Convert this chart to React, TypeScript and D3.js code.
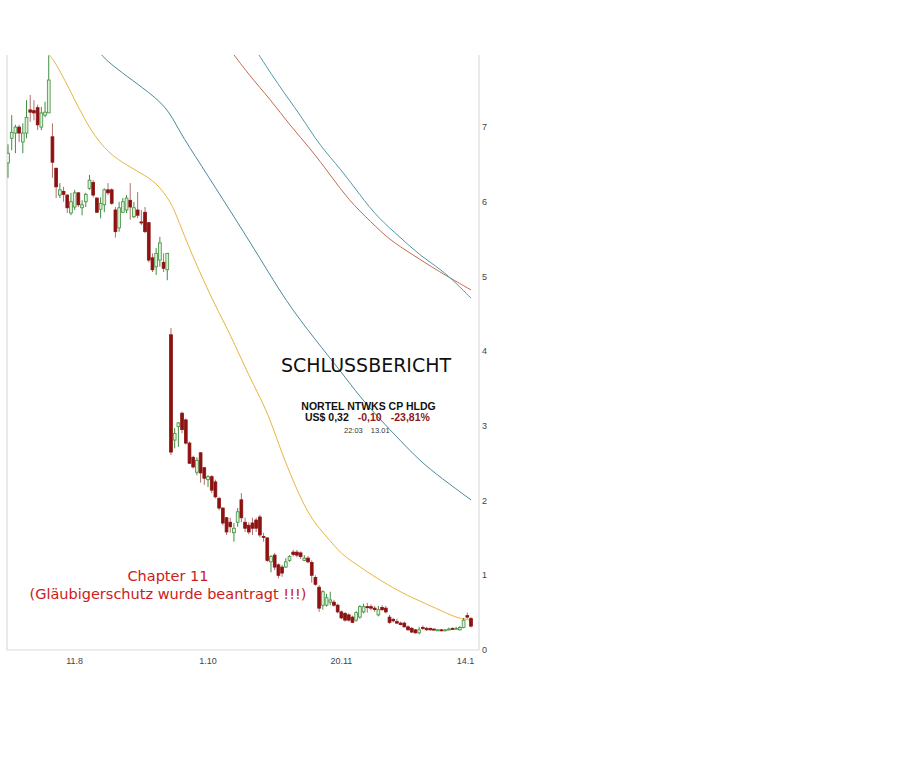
import React from 'react';
import * as d3 from 'd3';

// ---- Candle data (daily OHLC, Nortel, mid-July 2008 .. mid-Jan 2009) ----
const opens = [
  6.52, 6.85, 6.92, 7.0, 6.8, 6.92, 7.23, 7.22, 7.26, 7.0,
  7.16, 7.19, 6.87, 6.45, 6.09, 6.14, 6.09, 5.85, 5.93, 6.12,
  5.92, 6.0, 6.18, 6.26, 6.05, 5.9, 5.96, 6.16, 6.16, 5.89,
  5.65, 5.86, 5.89, 6.02, 5.8, 5.89, 5.73, 5.86, 5.72, 5.25,
  5.13, 5.22, 5.19, 5.09, 4.22, 2.81, 2.99, 3.17, 3.08, 2.77,
  2.58, 2.38, 2.64, 2.44, 2.28, 2.32, 2.25, 2.03, 1.9, 1.77,
  1.71, 1.57, 1.71, 2.01, 1.71, 1.67, 1.7, 1.74, 1.78, 1.52,
  1.5, 1.18, 1.27, 1.14, 1.11, 1.11, 1.2, 1.31, 1.31, 1.3,
  1.2, 1.23, 1.17, 0.97, 0.84, 0.6, 0.6, 0.64, 0.64, 0.6,
  0.51, 0.49, 0.47, 0.44, 0.4, 0.44, 0.51, 0.58, 0.58, 0.56,
  0.47, 0.57, 0.56, 0.44, 0.41, 0.38, 0.36, 0.36, 0.31, 0.29,
  0.27, 0.23, 0.3, 0.29, 0.29, 0.28, 0.27, 0.27, 0.26, 0.28,
  0.29, 0.29, 0.27, 0.3, 0.46, 0.42,
];
const highs = [
  6.77, 7.16, 7.03, 7.03, 7.05, 7.36, 7.43, 7.36, 7.3, 7.27,
  7.34, 7.96, 7.05, 6.45, 6.25, 6.2, 6.1, 6.12, 6.16, 6.13,
  6.02, 6.12, 6.36, 6.29, 6.06, 6.06, 6.18, 6.25, 6.18, 5.93,
  6.0, 6.05, 6.09, 6.25, 6.0, 6.13, 5.89, 5.93, 5.73, 5.31,
  5.38, 5.53, 5.31, 5.31, 4.31, 2.97, 3.05, 3.19, 3.1, 2.79,
  2.6, 2.58, 2.65, 2.45, 2.34, 2.34, 2.28, 2.05, 1.91, 1.78,
  1.77, 1.7, 1.9, 2.1, 1.77, 1.71, 1.77, 1.77, 1.81, 1.57,
  1.51, 1.27, 1.3, 1.16, 1.14, 1.23, 1.27, 1.34, 1.34, 1.32,
  1.27, 1.26, 1.2, 1.0, 0.87, 0.8, 0.75, 0.78, 0.67, 0.62,
  0.53, 0.51, 0.49, 0.46, 0.52, 0.6, 0.62, 0.63, 0.61, 0.59,
  0.59, 0.6, 0.59, 0.47, 0.43, 0.42, 0.38, 0.38, 0.33, 0.31,
  0.28, 0.31, 0.33, 0.31, 0.3, 0.29, 0.28, 0.28, 0.28, 0.3,
  0.3, 0.31, 0.32, 0.43, 0.5, 0.44,
];
const lows = [
  6.32, 6.69, 6.65, 6.8, 6.65, 6.85, 7.07, 7.09, 6.96, 6.96,
  7.13, 7.19, 6.32, 6.05, 6.05, 6.0, 5.85, 5.82, 5.89, 5.93,
  5.82, 5.93, 6.16, 6.06, 5.85, 5.78, 5.86, 6.09, 5.96, 5.52,
  5.6, 5.85, 5.85, 5.76, 5.78, 5.78, 5.69, 5.58, 5.19, 5.06,
  5.02, 5.13, 5.06, 4.95, 2.61, 2.7, 2.72, 2.9, 2.75, 2.49,
  2.43, 2.34, 2.24, 2.21, 2.18, 2.1, 2.03, 1.87, 1.67, 1.54,
  1.57, 1.45, 1.65, 1.71, 1.58, 1.55, 1.54, 1.58, 1.51, 1.45,
  1.18, 1.04, 1.07, 0.96, 0.98, 1.1, 1.18, 1.25, 1.24, 1.22,
  1.19, 1.16, 0.9, 0.86, 0.51, 0.54, 0.58, 0.6, 0.58, 0.49,
  0.41, 0.38, 0.38, 0.36, 0.38, 0.42, 0.49, 0.5, 0.53, 0.51,
  0.45, 0.52, 0.49, 0.35, 0.37, 0.35, 0.33, 0.3, 0.26, 0.23,
  0.22, 0.21, 0.27, 0.26, 0.26, 0.26, 0.26, 0.25, 0.25, 0.27,
  0.27, 0.28, 0.26, 0.29, 0.42, 0.3,
];
const closes = [
  6.65, 6.93, 7.0, 6.92, 6.92, 7.13, 7.2, 7.19, 7.03, 7.19,
  7.2, 7.63, 6.53, 6.2, 6.16, 6.1, 5.92, 6.0, 6.12, 5.96,
  5.96, 6.1, 6.29, 6.09, 5.86, 5.98, 6.16, 6.12, 5.98, 5.6,
  5.92, 6.0, 6.05, 5.93, 5.92, 5.82, 5.72, 5.6, 5.22, 5.09,
  5.31, 5.45, 5.11, 5.31, 2.65, 2.9, 3.04, 2.95, 2.77, 2.5,
  2.45, 2.54, 2.37, 2.3, 2.32, 2.14, 2.05, 1.9, 1.7, 1.58,
  1.65, 1.63, 1.85, 1.77, 1.63, 1.58, 1.63, 1.63, 1.54, 1.51,
  1.2, 1.25, 1.11, 1.0, 1.03, 1.18, 1.25, 1.28, 1.27, 1.25,
  1.23, 1.18, 1.0, 0.88, 0.56, 0.78, 0.7, 0.67, 0.6, 0.51,
  0.43, 0.4, 0.4, 0.37, 0.5, 0.58, 0.58, 0.57, 0.56, 0.54,
  0.54, 0.54, 0.51, 0.37, 0.39, 0.36, 0.34, 0.31, 0.27, 0.24,
  0.23, 0.27, 0.29, 0.27, 0.27, 0.27, 0.27, 0.26, 0.27, 0.28,
  0.28, 0.29, 0.3, 0.4, 0.44, 0.32,
];

// ---- Moving averages (index of candle, value) ----
const maShortIdx = [9, 11, 13, 17, 21, 26, 31, 36, 40, 44, 46, 50, 56, 60, 65, 70, 73, 76, 81, 86, 90, 94, 98, 104, 109, 116, 121, 124, 125];
const maShortVal = [8.1, 7.98, 7.85, 7.47, 7.06, 6.7, 6.52, 6.38, 6.26, 6.0, 5.75, 5.25, 4.6, 4.23, 3.67, 3.2, 2.76, 2.38, 1.8, 1.52, 1.28, 1.15, 1.01, 0.83, 0.7, 0.55, 0.43, 0.41, 0.4];
const maMidIdx = [22, 25, 31, 36, 43, 46, 52, 60, 68, 75, 83, 90, 95, 100, 106, 111, 117, 125];
const maMidVal = [8.2, 7.95, 7.72, 7.54, 7.27, 6.96, 6.5, 5.88, 5.25, 4.67, 4.15, 3.72, 3.39, 3.11, 2.8, 2.54, 2.3, 2.01];
const maLongAIdx = [59, 65, 71, 76, 82, 87, 92, 98, 103, 109, 114, 119, 125];
const maLongAVal = [8.1, 7.7, 7.36, 7.03, 6.69, 6.36, 6.02, 5.73, 5.49, 5.3, 5.14, 4.99, 4.82];
const maLongBIdx = [66, 73, 79, 84, 90, 95, 100, 106, 111, 117, 121, 125];
const maLongBVal = [8.1, 7.56, 7.16, 6.76, 6.43, 6.09, 5.78, 5.52, 5.29, 5.09, 4.91, 4.71];

// ---- Axis labels ----
const yTicks = [0, 1, 2, 3, 4, 5, 6, 7];
const xTickIdx = [18, 54, 90, 123.5];
const xTickLabels = ['11.8', '1.10', '20.11', '14.1'];

const quoteName = 'NORTEL NTWKS CP HLDG';
const quotePrice = 'US$ 0,32';
const quoteChange = '-0,10';
const quotePct = '-23,81%';
const quoteTime = '22:03';
const quoteDate = '13.01';

export default function App() {
  const left = 7, right = 479, top = 55, bottom = 650;
  const x = d3.scaleLinear().domain([-0.27, 127.16]).range([left, right]);
  const y = d3.scaleLinear().domain([0, 7.965]).range([bottom, top]);
  const bw = 2.8;

  const line = d3.line<[number, number]>()
    .x(d => x(d[0]))
    .y(d => y(d[1]))
    .curve(d3.curveBasis);
  const mk = (idx: number[], val: number[]) => line(idx.map((v, i) => [v, val[i]] as [number, number])) || '';

  const candles = opens.map((o, i) => ({ o, h: highs[i], l: lows[i], c: closes[i], i }));

  return (
    <svg width={921} height={768} style={{ position: 'absolute', left: 0, top: 0, background: '#fff' }}
      fontFamily="Liberation Sans, Arial, sans-serif">
      <defs>
        <clipPath id="plot">
          <rect x={left} y={top} width={right - left} height={bottom - top} />
        </clipPath>
      </defs>
      <rect x={0} y={0} width={921} height={768} fill="#fff" />

      {/* frame */}
      <line x1={left} x2={left} y1={top} y2={bottom} stroke="#dcdcdc" strokeWidth={1.2} />
      <line x1={right} x2={right} y1={top} y2={bottom} stroke="#dcdcdc" strokeWidth={1.2} />
      <line x1={left} x2={right} y1={bottom} y2={bottom} stroke="#dcdcdc" strokeWidth={1.2} />

      <g clipPath="url(#plot)">
        <path d={mk(maLongAIdx, maLongAVal)} fill="none" stroke="#c46a4e" strokeWidth={1} />
        <path d={mk(maLongBIdx, maLongBVal)} fill="none" stroke="#4f98a8" strokeWidth={1} />
        <path d={mk(maMidIdx, maMidVal)} fill="none" stroke="#4a8a9c" strokeWidth={1} />
        <path d={mk(maShortIdx, maShortVal)} fill="none" stroke="#e8b440" strokeWidth={1} />

        {candles.map(d => {
          const up = d.c >= d.o;
          const cx = x(d.i);
          const yTop = y(Math.max(d.o, d.c));
          const yBot = y(Math.min(d.o, d.c));
          const h = Math.max(1, yBot - yTop);
          return (
            <g key={d.i}>
              <line x1={cx} x2={cx} y1={y(d.h)} y2={y(d.l)}
                stroke={up ? '#3f8f3f' : '#b07070'} strokeWidth={1} />
              <rect x={cx - bw / 2} y={yTop} width={bw} height={h}
                fill={up ? '#dff0d8' : '#8c1212'}
                stroke={up ? '#3f8f3f' : '#8c1212'} strokeWidth={0.8} />
            </g>
          );
        })}
      </g>

      {/* y axis labels */}
      {yTicks.map(t => (
        <text key={t} x={482} y={y(t)} dy="0.35em" fontSize={9} fill="#444">{t}</text>
      ))}
      {/* x axis labels */}
      {xTickIdx.map((t, i) => (
        <text key={i} x={x(t)} y={664} textAnchor="middle" fontSize={9} fill="#444">{xTickLabels[i]}</text>
      ))}

      {/* headline */}
      <text x={366} y={372} textAnchor="middle" fontSize={19} fill="#111"
        fontFamily="DejaVu Sans, Verdana, sans-serif" textLength={170} lengthAdjust="spacingAndGlyphs">SCHLUSSBERICHT</text>
      <text x={368.5} y={410} textAnchor="middle" fontSize={10.5} fontWeight="bold" fill="#111">{quoteName}</text>
      <text x={305} y={421} fontSize={10.5} fontWeight="bold">
        <tspan fill="#111">{quotePrice}</tspan>
        <tspan dx={9} fill="#8b1a1a">{quoteChange}</tspan>
        <tspan dx={9} fill="#8b1a1a">{quotePct}</tspan>
      </text>
      <text x={344} y={433} fontSize={7.5} fill="#333">
        <tspan>{quoteTime}</tspan>
        <tspan dx={8}>{quoteDate}</tspan>
      </text>

      {/* annotation */}
      <text x={168} y={581} textAnchor="middle" fontSize={14.5} fill="#cc2020"
        fontFamily="DejaVu Sans, Verdana, sans-serif">Chapter 11</text>
      <text x={168} y={599} textAnchor="middle" fontSize={14.5} fill="#cc2020"
        fontFamily="DejaVu Sans, Verdana, sans-serif">(Gläubigerschutz wurde beantragt !!!)</text>
    </svg>
  );
}
